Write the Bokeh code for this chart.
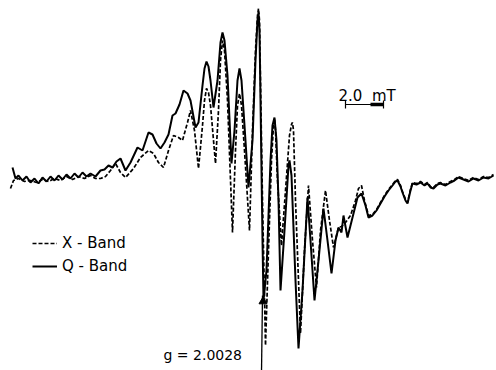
from bokeh.plotting import figure
from bokeh.models import Range1d, Legend, LegendItem, Label
from bokeh.embed import file_html
from bokeh.resources import INLINE

# Field position (digitized channels, 19 channels = 1 mT) and signal (a.u.)
q_field = [12, 15, 18, 22, 26, 30, 34, 38, 42, 46, 50, 54, 58, 62, 66, 70, 74, 78, 82, 86,
           90, 95, 100, 104, 108, 112, 116, 120, 125, 130, 137, 142, 148, 152, 156, 160, 164,
           168, 172, 175, 179, 183, 187, 190, 195, 198, 202, 204, 206, 208, 210, 213, 217, 220,
           222, 224, 227, 231, 234, 237, 239, 241, 244, 248, 252, 255, 257, 258, 259, 260, 262,
           263, 266, 270, 272, 274, 276, 278, 280, 284, 288, 289, 291, 295, 298, 302, 307, 310,
           314, 318, 323, 327, 331, 335, 338, 341, 343, 347, 350, 355, 357, 361, 365, 368, 372,
           376, 380, 384, 388, 392, 395, 397, 400, 402, 405, 407, 410, 412, 416, 420, 424, 427,
           430, 433, 437, 440, 445, 450, 454, 458, 463, 468, 473, 478, 483, 488, 493]
q_signal = [13, 2, 5, 0, 4, -2, 2, -3, 3, -1, 4, 0, 5, 1, 6, 2, 7, 3, 8, 4,
            7, 4, 10, 11, 15, 13, 19, 22, 10, 18, 33, 30, 48, 46, 37, 32, 38,
            46, 65, 67, 76, 90, 87, 80, 53, 58, 95, 112, 119, 114, 100, 73, 100, 138,
            148, 140, 105, 17, 50, 100, 112, 100, 55, -7, 40, 120, 160, 168, 150, 80, -60,
            -120, -90, 20, 55, 63, 40, -20, -110, -50, 15, 20, 5, -100, -168, -110, -17, -60,
            -120, -80, -28, -60, -93, -60, -47, -52, -35, -57, -45, -25, -17, -13, -25, -37, -35,
            -30, -23, -16, -10, -5, -1, 0, -6, -12, -20, -23, -10, -3, -4, -2, -5, -3,
            -7, -8, -4, -3, -5, -2, 0, 3, 1, -1, 2, 0, 3, 2, 5]

x_field = [10, 13, 18, 24, 30, 36, 42, 48, 54, 60, 66, 72, 78, 84, 90, 95, 100, 105, 110,
           115, 120, 125, 133, 140, 148, 153, 158, 163, 168, 173, 178, 182, 187, 190, 194, 198,
           202, 204, 206, 208, 210, 215, 218, 220, 222, 224, 227, 232, 235, 237, 239, 241, 244,
           249, 252, 255, 257, 258, 259, 260, 262, 265, 268, 271, 273, 274, 275, 277, 281, 285,
           289, 291, 292, 293, 295, 300, 304, 308, 312, 316, 320, 325, 329, 333, 336, 338, 341,
           345, 350, 355, 358, 361, 364, 368, 372, 376, 380, 384, 388, 392, 395, 397, 400, 402,
           405, 407, 410, 412, 416, 420, 424, 427, 430, 433, 437, 440, 445, 450, 454, 458, 463,
           468, 473, 478, 483, 488, 493]
x_signal = [-8, 0, 2, -1, 0, -2, 1, -1, 2, 0, 4, 1, 4, 2, 5, 2, 2, 4, 10,
            17, 8, 3, 12, 23, 30, 27, 18, 13, 30, 45, 43, 40, 58, 70, 50, 12,
            55, 80, 92, 88, 75, 17, 70, 120, 140, 130, 80, -52, 30, 75, 87, 75, 30,
            -50, 50, 130, 165, 172, 160, 100, -20, -165, -70, 20, 55, 62, 50, 0, -65, -10,
            45, 56, 58, 50, -20, -153, -70, -5, -60, -107, -50, -10, -40, -67, -55, -47, -46,
            -42, -35, -20, -8, -5, -20, -35, -34, -29, -22, -15, -9, -4, 0, 1, -5, -11,
            -19, -22, -9, -2, -3, -1, -4, -2, -6, -7, -3, -2, -4, -1, 1, 4, 2,
            0, 3, 1, 4, 3, 6]

series_labels = ["X - Band", "Q - Band"]
scale_label = "2.0\u00a0\u00a0mT"
g_label = "g = 2.0028"
g_field = 262          # field position of g = 2.0028
scale_start = 345      # 2.0 mT scale bar (38 channels)
scale_len = 38

FONT = "DejaVu Sans"

p = figure(width=496, height=370, output_backend="svg", toolbar_location=None,
           x_range=Range1d(0, 496), y_range=Range1d(-190, 180),
           min_border=0, outline_line_color=None)
p.xaxis.visible = False
p.yaxis.visible = False
p.xgrid.visible = False
p.ygrid.visible = False
p.background_fill_color = "white"
p.border_fill_color = "white"

r_x = p.line(x_field, x_signal, line_color="black", line_width=1.7, line_dash="4 2")
r_q = p.line(q_field, q_signal, line_color="black", line_width=2.0)

# g marker
p.segment(x0=[g_field], y0=[-115], x1=[g_field - 1], y1=[-192], line_color="black", line_width=1.3)
p.scatter([g_field + 0.5], [-121], marker="triangle", size=8, color="black")

# scale bar
p.segment(x0=[scale_start], y0=[76], x1=[scale_start + scale_len], y1=[76], line_color="black", line_width=1.2)
p.segment(x0=[scale_start, scale_start + scale_len], y0=[72, 72],
          x1=[scale_start, scale_start + scale_len], y1=[80, 80], line_color="black", line_width=1.2)
p.segment(x0=[scale_start + 25], y0=[76], x1=[scale_start + scale_len], y1=[76], line_color="black", line_width=3.5)

p.add_layout(Label(x=338, y=85, text=scale_label, text_font=FONT, text_font_size="15px",
                   text_color="black", text_baseline="alphabetic"))
p.add_layout(Label(x=163, y=-174, text=g_label, text_font=FONT, text_font_size="14px",
                   text_color="black", text_baseline="alphabetic"))

legend = Legend(items=[LegendItem(label=series_labels[0], renderers=[r_x]),
                       LegendItem(label=series_labels[1], renderers=[r_q])],
                location=(32, 94), orientation="vertical", border_line_color=None,
                background_fill_alpha=0, padding=0, margin=0, spacing=3,
                glyph_width=25, glyph_height=20, label_height=20, label_standoff=5,
                label_text_font=FONT, label_text_font_size="15px", label_text_color="black")
p.add_layout(legend)

open("out.html", "w").write(file_html(p, INLINE))
